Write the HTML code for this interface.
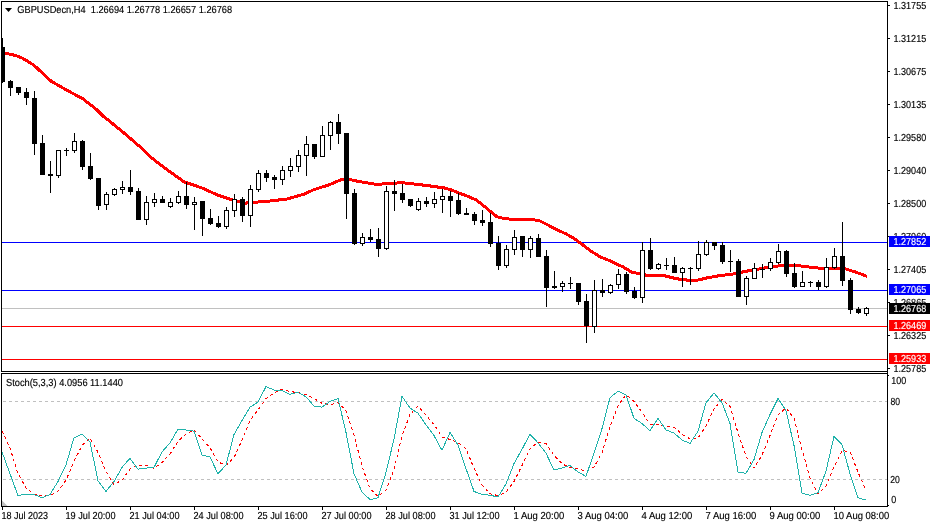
<!DOCTYPE html>
<html><head><meta charset="utf-8"><title>GBPUSDecn,H4</title>
<style>
html,body{margin:0;padding:0;background:#fff;}
body{width:932px;height:527px;overflow:hidden;position:relative;}
svg{position:absolute;left:0;top:0;display:block;}
text{white-space:pre;font-family:"Liberation Sans",sans-serif;font-size:10.2px;text-rendering:geometricPrecision;fill:#000;stroke:#000;stroke-width:0.15px;}
.w{fill:#fff;stroke:#fff;}
</style></head><body>
<svg width="932" height="527" viewBox="0 0 932 527">
<rect width="932" height="527" fill="#fff"/>

<defs><clipPath id="cm"><rect x="2" y="2" width="885" height="369"/></clipPath><clipPath id="cs"><rect x="2" y="374" width="885" height="132"/></clipPath></defs>
<g shape-rendering="crispEdges">
<rect x="2" y="242" width="885" height="1" fill="#0000ff"/>
<rect x="2" y="290" width="885" height="1" fill="#0000ff"/>
<rect x="2" y="308" width="885" height="1" fill="#c0c0c0"/>
<rect x="2" y="326" width="885" height="1" fill="#ff0000"/>
<rect x="2" y="359" width="885" height="1" fill="#ff0000"/>
</g>
<polyline points="2,53.5 8,53.8 12,54.5 17,56 23,58.5 28,61.5 34,65.3 51.5,81.5 68.7,91.2 82.4,98.5 96,109 103,116 110,121.5 127,135.5 140.8,147.5 150,156.5 160,164.5 167,169.7 184,181.8 201.5,187.8 218.7,195.5 236,201 244.4,203.2 253,202.4 270,201 287,199 304.5,194 313,190 330,184.5 341.5,179.5 350,179.5 358.7,181.5 376,184.4 393,183.3 402,182.7 410,183.6 427,185.5 444.5,188 450,189.5 467,196 476,199.8 484.5,206.5 488.6,210 497,216.8 505.7,218.9 514,219.2 531.5,219.4 540,221 548.7,225.4 557.2,230 566,233.8 574.4,238.6 583,245 591.6,251.5 600,256.8 609,260.4 617,264.4 623,266.9 631.6,272 640,274 648,275.5 657,275.5 664,275.6 673,277.9 681.5,279.6 690,280.3 698.7,280 707,277.9 716,276.2 733,274 741.6,272.2 750,270.5 767,267.6 776,266.2 785.7,265.3 794,265.3 803,266.2 811.5,267.4 820,268.2 828.7,268.2 837,268.6 846,269 854.4,271.7 863,274.7 867,276.5" fill="none" stroke="#ff0000" stroke-width="3" stroke-linejoin="round" shape-rendering="crispEdges" clip-path="url(#cm)"/>
<g shape-rendering="crispEdges" clip-path="url(#cm)">
<rect x="2" y="38" width="1" height="45" fill="#000"/>
<rect x="0" y="47" width="5" height="35" fill="#000"/>
<rect x="10" y="80" width="1" height="16" fill="#000"/>
<rect x="8" y="81" width="5" height="7" fill="#000"/>
<rect x="18" y="87" width="1" height="8" fill="#000"/>
<rect x="16" y="87" width="5" height="6" fill="#000"/>
<rect x="26" y="88" width="1" height="17" fill="#000"/>
<rect x="24" y="92" width="5" height="6" fill="#000"/>
<rect x="34" y="91" width="1" height="64" fill="#000"/>
<rect x="32" y="98" width="5" height="46" fill="#000"/>
<rect x="42" y="135" width="1" height="40" fill="#000"/>
<rect x="40" y="143" width="5" height="32" fill="#000"/>
<rect x="50" y="161" width="1" height="32" fill="#000"/>
<rect x="48" y="174" width="5" height="2" fill="#000"/>
<rect x="58" y="150" width="1" height="28" fill="#000"/>
<rect x="56" y="150" width="5" height="26" fill="#000"/>
<rect x="57" y="151" width="3" height="24" fill="#fff"/>
<rect x="66" y="148" width="1" height="8" fill="#000"/>
<rect x="64" y="150" width="5" height="1" fill="#000"/>
<rect x="74" y="133" width="1" height="20" fill="#000"/>
<rect x="72" y="141" width="5" height="10" fill="#000"/>
<rect x="73" y="142" width="3" height="8" fill="#fff"/>
<rect x="82" y="140" width="1" height="30" fill="#000"/>
<rect x="80" y="141" width="5" height="26" fill="#000"/>
<rect x="90" y="153" width="1" height="27" fill="#000"/>
<rect x="88" y="166" width="5" height="13" fill="#000"/>
<rect x="98" y="178" width="1" height="32" fill="#000"/>
<rect x="96" y="178" width="5" height="28" fill="#000"/>
<rect x="106" y="192" width="1" height="18" fill="#000"/>
<rect x="104" y="194" width="5" height="11" fill="#000"/>
<rect x="105" y="195" width="3" height="9" fill="#fff"/>
<rect x="114" y="188" width="1" height="8" fill="#000"/>
<rect x="112" y="189" width="5" height="6" fill="#000"/>
<rect x="113" y="190" width="3" height="4" fill="#fff"/>
<rect x="122" y="181" width="1" height="13" fill="#000"/>
<rect x="120" y="187" width="5" height="3" fill="#000"/>
<rect x="121" y="188" width="3" height="1" fill="#fff"/>
<rect x="130" y="170" width="1" height="25" fill="#000"/>
<rect x="128" y="187" width="5" height="5" fill="#000"/>
<rect x="138" y="188" width="1" height="32" fill="#000"/>
<rect x="136" y="191" width="5" height="29" fill="#000"/>
<rect x="146" y="196" width="1" height="29" fill="#000"/>
<rect x="144" y="202" width="5" height="18" fill="#000"/>
<rect x="145" y="203" width="3" height="16" fill="#fff"/>
<rect x="154" y="193" width="1" height="14" fill="#000"/>
<rect x="152" y="199" width="5" height="4" fill="#000"/>
<rect x="153" y="200" width="3" height="2" fill="#fff"/>
<rect x="162" y="196" width="1" height="7" fill="#000"/>
<rect x="160" y="199" width="5" height="4" fill="#000"/>
<rect x="170" y="198" width="1" height="10" fill="#000"/>
<rect x="168" y="202" width="5" height="5" fill="#000"/>
<rect x="169" y="203" width="3" height="3" fill="#fff"/>
<rect x="178" y="191" width="1" height="13" fill="#000"/>
<rect x="176" y="196" width="5" height="7" fill="#000"/>
<rect x="177" y="197" width="3" height="5" fill="#fff"/>
<rect x="186" y="182" width="1" height="27" fill="#000"/>
<rect x="184" y="196" width="5" height="9" fill="#000"/>
<rect x="194" y="197" width="1" height="33" fill="#000"/>
<rect x="192" y="202" width="5" height="3" fill="#000"/>
<rect x="193" y="203" width="3" height="1" fill="#fff"/>
<rect x="202" y="201" width="1" height="35" fill="#000"/>
<rect x="200" y="201" width="5" height="18" fill="#000"/>
<rect x="210" y="209" width="1" height="16" fill="#000"/>
<rect x="208" y="218" width="5" height="6" fill="#000"/>
<rect x="218" y="216" width="1" height="12" fill="#000"/>
<rect x="216" y="223" width="5" height="4" fill="#000"/>
<rect x="226" y="207" width="1" height="22" fill="#000"/>
<rect x="224" y="210" width="5" height="17" fill="#000"/>
<rect x="225" y="211" width="3" height="15" fill="#fff"/>
<rect x="234" y="194" width="1" height="23" fill="#000"/>
<rect x="232" y="199" width="5" height="12" fill="#000"/>
<rect x="233" y="200" width="3" height="10" fill="#fff"/>
<rect x="242" y="197" width="1" height="25" fill="#000"/>
<rect x="240" y="199" width="5" height="17" fill="#000"/>
<rect x="250" y="185" width="1" height="42" fill="#000"/>
<rect x="248" y="189" width="5" height="27" fill="#000"/>
<rect x="249" y="190" width="3" height="25" fill="#fff"/>
<rect x="258" y="170" width="1" height="22" fill="#000"/>
<rect x="256" y="173" width="5" height="17" fill="#000"/>
<rect x="257" y="174" width="3" height="15" fill="#fff"/>
<rect x="266" y="170" width="1" height="12" fill="#000"/>
<rect x="264" y="173" width="5" height="5" fill="#000"/>
<rect x="274" y="175" width="1" height="14" fill="#000"/>
<rect x="272" y="177" width="5" height="3" fill="#000"/>
<rect x="282" y="166" width="1" height="19" fill="#000"/>
<rect x="280" y="170" width="5" height="10" fill="#000"/>
<rect x="281" y="171" width="3" height="8" fill="#fff"/>
<rect x="290" y="158" width="1" height="19" fill="#000"/>
<rect x="288" y="166" width="5" height="5" fill="#000"/>
<rect x="289" y="167" width="3" height="3" fill="#fff"/>
<rect x="298" y="150" width="1" height="22" fill="#000"/>
<rect x="296" y="155" width="5" height="12" fill="#000"/>
<rect x="297" y="156" width="3" height="10" fill="#fff"/>
<rect x="306" y="136" width="1" height="40" fill="#000"/>
<rect x="304" y="144" width="5" height="12" fill="#000"/>
<rect x="305" y="145" width="3" height="10" fill="#fff"/>
<rect x="314" y="144" width="1" height="15" fill="#000"/>
<rect x="312" y="144" width="5" height="13" fill="#000"/>
<rect x="322" y="126" width="1" height="31" fill="#000"/>
<rect x="320" y="135" width="5" height="22" fill="#000"/>
<rect x="321" y="136" width="3" height="20" fill="#fff"/>
<rect x="330" y="121" width="1" height="29" fill="#000"/>
<rect x="328" y="122" width="5" height="14" fill="#000"/>
<rect x="329" y="123" width="3" height="12" fill="#fff"/>
<rect x="338" y="114" width="1" height="30" fill="#000"/>
<rect x="336" y="122" width="5" height="12" fill="#000"/>
<rect x="346" y="133" width="1" height="86" fill="#000"/>
<rect x="344" y="133" width="5" height="61" fill="#000"/>
<rect x="354" y="189" width="1" height="56" fill="#000"/>
<rect x="352" y="193" width="5" height="51" fill="#000"/>
<rect x="362" y="233" width="1" height="13" fill="#000"/>
<rect x="360" y="237" width="5" height="7" fill="#000"/>
<rect x="361" y="238" width="3" height="5" fill="#fff"/>
<rect x="370" y="229" width="1" height="13" fill="#000"/>
<rect x="368" y="237" width="5" height="3" fill="#000"/>
<rect x="378" y="228" width="1" height="29" fill="#000"/>
<rect x="376" y="239" width="5" height="10" fill="#000"/>
<rect x="386" y="186" width="1" height="64" fill="#000"/>
<rect x="384" y="191" width="5" height="58" fill="#000"/>
<rect x="385" y="192" width="3" height="56" fill="#fff"/>
<rect x="394" y="180" width="1" height="31" fill="#000"/>
<rect x="392" y="191" width="5" height="3" fill="#000"/>
<rect x="402" y="184" width="1" height="19" fill="#000"/>
<rect x="400" y="193" width="5" height="7" fill="#000"/>
<rect x="410" y="199" width="1" height="8" fill="#000"/>
<rect x="408" y="199" width="5" height="7" fill="#000"/>
<rect x="418" y="198" width="1" height="13" fill="#000"/>
<rect x="416" y="201" width="5" height="9" fill="#000"/>
<rect x="417" y="202" width="3" height="7" fill="#fff"/>
<rect x="426" y="197" width="1" height="10" fill="#000"/>
<rect x="424" y="201" width="5" height="3" fill="#000"/>
<rect x="434" y="192" width="1" height="16" fill="#000"/>
<rect x="432" y="199" width="5" height="5" fill="#000"/>
<rect x="433" y="200" width="3" height="3" fill="#fff"/>
<rect x="442" y="189" width="1" height="24" fill="#000"/>
<rect x="440" y="196" width="5" height="4" fill="#000"/>
<rect x="441" y="197" width="3" height="2" fill="#fff"/>
<rect x="450" y="191" width="1" height="26" fill="#000"/>
<rect x="448" y="196" width="5" height="5" fill="#000"/>
<rect x="458" y="193" width="1" height="22" fill="#000"/>
<rect x="456" y="200" width="5" height="14" fill="#000"/>
<rect x="466" y="208" width="1" height="7" fill="#000"/>
<rect x="464" y="213" width="5" height="2" fill="#000"/>
<rect x="474" y="212" width="1" height="13" fill="#000"/>
<rect x="472" y="214" width="5" height="7" fill="#000"/>
<rect x="482" y="210" width="1" height="16" fill="#000"/>
<rect x="480" y="220" width="5" height="3" fill="#000"/>
<rect x="490" y="213" width="1" height="34" fill="#000"/>
<rect x="488" y="222" width="5" height="22" fill="#000"/>
<rect x="498" y="236" width="1" height="34" fill="#000"/>
<rect x="496" y="243" width="5" height="23" fill="#000"/>
<rect x="506" y="245" width="1" height="23" fill="#000"/>
<rect x="504" y="249" width="5" height="17" fill="#000"/>
<rect x="505" y="250" width="3" height="15" fill="#fff"/>
<rect x="514" y="230" width="1" height="25" fill="#000"/>
<rect x="512" y="237" width="5" height="13" fill="#000"/>
<rect x="513" y="238" width="3" height="11" fill="#fff"/>
<rect x="522" y="236" width="1" height="21" fill="#000"/>
<rect x="520" y="236" width="5" height="14" fill="#000"/>
<rect x="530" y="236" width="1" height="22" fill="#000"/>
<rect x="528" y="238" width="5" height="12" fill="#000"/>
<rect x="529" y="239" width="3" height="10" fill="#fff"/>
<rect x="538" y="234" width="1" height="23" fill="#000"/>
<rect x="536" y="238" width="5" height="19" fill="#000"/>
<rect x="546" y="250" width="1" height="57" fill="#000"/>
<rect x="544" y="256" width="5" height="32" fill="#000"/>
<rect x="554" y="271" width="1" height="18" fill="#000"/>
<rect x="552" y="286" width="5" height="2" fill="#000"/>
<rect x="562" y="281" width="1" height="11" fill="#000"/>
<rect x="560" y="283" width="5" height="4" fill="#000"/>
<rect x="561" y="284" width="3" height="2" fill="#fff"/>
<rect x="570" y="277" width="1" height="12" fill="#000"/>
<rect x="568" y="283" width="5" height="1" fill="#000"/>
<rect x="578" y="283" width="1" height="22" fill="#000"/>
<rect x="576" y="283" width="5" height="19" fill="#000"/>
<rect x="586" y="294" width="1" height="49" fill="#000"/>
<rect x="584" y="301" width="5" height="25" fill="#000"/>
<rect x="594" y="280" width="1" height="53" fill="#000"/>
<rect x="592" y="290" width="5" height="37" fill="#000"/>
<rect x="593" y="291" width="3" height="35" fill="#fff"/>
<rect x="602" y="279" width="1" height="18" fill="#000"/>
<rect x="600" y="290" width="5" height="3" fill="#000"/>
<rect x="610" y="284" width="1" height="10" fill="#000"/>
<rect x="608" y="285" width="5" height="8" fill="#000"/>
<rect x="609" y="286" width="3" height="6" fill="#fff"/>
<rect x="618" y="269" width="1" height="20" fill="#000"/>
<rect x="616" y="274" width="5" height="11" fill="#000"/>
<rect x="617" y="275" width="3" height="9" fill="#fff"/>
<rect x="626" y="272" width="1" height="22" fill="#000"/>
<rect x="624" y="274" width="5" height="18" fill="#000"/>
<rect x="634" y="287" width="1" height="12" fill="#000"/>
<rect x="632" y="291" width="5" height="7" fill="#000"/>
<rect x="642" y="242" width="1" height="61" fill="#000"/>
<rect x="640" y="250" width="5" height="48" fill="#000"/>
<rect x="641" y="251" width="3" height="46" fill="#fff"/>
<rect x="650" y="238" width="1" height="32" fill="#000"/>
<rect x="648" y="250" width="5" height="19" fill="#000"/>
<rect x="658" y="263" width="1" height="7" fill="#000"/>
<rect x="656" y="264" width="5" height="5" fill="#000"/>
<rect x="657" y="265" width="3" height="3" fill="#fff"/>
<rect x="666" y="258" width="1" height="12" fill="#000"/>
<rect x="664" y="265" width="5" height="1" fill="#000"/>
<rect x="674" y="257" width="1" height="16" fill="#000"/>
<rect x="672" y="265" width="5" height="8" fill="#000"/>
<rect x="682" y="267" width="1" height="20" fill="#000"/>
<rect x="680" y="268" width="5" height="5" fill="#000"/>
<rect x="681" y="269" width="3" height="3" fill="#fff"/>
<rect x="690" y="267" width="1" height="18" fill="#000"/>
<rect x="688" y="268" width="5" height="1" fill="#000"/>
<rect x="698" y="241" width="1" height="30" fill="#000"/>
<rect x="696" y="254" width="5" height="15" fill="#000"/>
<rect x="697" y="255" width="3" height="13" fill="#fff"/>
<rect x="706" y="240" width="1" height="16" fill="#000"/>
<rect x="704" y="242" width="5" height="13" fill="#000"/>
<rect x="705" y="243" width="3" height="11" fill="#fff"/>
<rect x="714" y="242" width="1" height="8" fill="#000"/>
<rect x="712" y="242" width="5" height="4" fill="#000"/>
<rect x="722" y="242" width="1" height="22" fill="#000"/>
<rect x="720" y="245" width="5" height="17" fill="#000"/>
<rect x="730" y="250" width="1" height="22" fill="#000"/>
<rect x="728" y="261" width="5" height="1" fill="#000"/>
<rect x="738" y="259" width="1" height="38" fill="#000"/>
<rect x="736" y="261" width="5" height="36" fill="#000"/>
<rect x="746" y="276" width="1" height="29" fill="#000"/>
<rect x="744" y="278" width="5" height="19" fill="#000"/>
<rect x="745" y="279" width="3" height="17" fill="#fff"/>
<rect x="754" y="263" width="1" height="16" fill="#000"/>
<rect x="752" y="268" width="5" height="11" fill="#000"/>
<rect x="753" y="269" width="3" height="9" fill="#fff"/>
<rect x="762" y="264" width="1" height="14" fill="#000"/>
<rect x="760" y="269" width="5" height="1" fill="#000"/>
<rect x="770" y="258" width="1" height="13" fill="#000"/>
<rect x="768" y="262" width="5" height="7" fill="#000"/>
<rect x="769" y="263" width="3" height="5" fill="#fff"/>
<rect x="778" y="244" width="1" height="20" fill="#000"/>
<rect x="776" y="251" width="5" height="12" fill="#000"/>
<rect x="777" y="252" width="3" height="10" fill="#fff"/>
<rect x="786" y="250" width="1" height="27" fill="#000"/>
<rect x="784" y="251" width="5" height="23" fill="#000"/>
<rect x="794" y="263" width="1" height="25" fill="#000"/>
<rect x="792" y="273" width="5" height="14" fill="#000"/>
<rect x="802" y="271" width="1" height="16" fill="#000"/>
<rect x="800" y="282" width="5" height="5" fill="#000"/>
<rect x="801" y="283" width="3" height="3" fill="#fff"/>
<rect x="810" y="281" width="1" height="6" fill="#000"/>
<rect x="808" y="282" width="5" height="1" fill="#000"/>
<rect x="818" y="280" width="1" height="10" fill="#000"/>
<rect x="816" y="282" width="5" height="5" fill="#000"/>
<rect x="826" y="258" width="1" height="30" fill="#000"/>
<rect x="824" y="267" width="5" height="20" fill="#000"/>
<rect x="825" y="268" width="3" height="18" fill="#fff"/>
<rect x="834" y="248" width="1" height="21" fill="#000"/>
<rect x="832" y="256" width="5" height="12" fill="#000"/>
<rect x="833" y="257" width="3" height="10" fill="#fff"/>
<rect x="842" y="222" width="1" height="64" fill="#000"/>
<rect x="840" y="256" width="5" height="25" fill="#000"/>
<rect x="850" y="278" width="1" height="36" fill="#000"/>
<rect x="848" y="280" width="5" height="30" fill="#000"/>
<rect x="858" y="307" width="1" height="7" fill="#000"/>
<rect x="856" y="309" width="5" height="4" fill="#000"/>
<rect x="866" y="307" width="1" height="9" fill="#000"/>
<rect x="864" y="308" width="5" height="6" fill="#000"/>
<rect x="865" y="309" width="3" height="4" fill="#fff"/>
</g>
<g shape-rendering="crispEdges" fill="#000">
<rect x="1" y="1" width="887" height="1"/>
<rect x="1" y="1" width="1" height="371"/>
<rect x="1" y="371" width="887" height="1"/>
<rect x="887" y="1" width="1" height="506"/>
<rect x="1" y="373" width="887" height="1"/>
<rect x="1" y="373" width="1" height="134"/>
<rect x="1" y="506" width="887" height="1"/>
<rect x="888" y="5" width="2" height="1"/>
<rect x="888" y="38" width="2" height="1"/>
<rect x="888" y="71" width="2" height="1"/>
<rect x="888" y="104" width="2" height="1"/>
<rect x="888" y="137" width="2" height="1"/>
<rect x="888" y="170" width="2" height="1"/>
<rect x="888" y="203" width="2" height="1"/>
<rect x="888" y="236" width="2" height="1"/>
<rect x="888" y="269" width="2" height="1"/>
<rect x="888" y="302" width="2" height="1"/>
<rect x="888" y="335" width="2" height="1"/>
<rect x="888" y="368" width="2" height="1"/>
<rect x="888" y="375" width="1" height="1"/>
<rect x="888" y="505" width="1" height="1"/>
<rect x="2" y="507" width="1" height="3"/>
<rect x="66" y="507" width="1" height="3"/>
<rect x="130" y="507" width="1" height="3"/>
<rect x="194" y="507" width="1" height="3"/>
<rect x="258" y="507" width="1" height="3"/>
<rect x="322" y="507" width="1" height="3"/>
<rect x="386" y="507" width="1" height="3"/>
<rect x="450" y="507" width="1" height="3"/>
<rect x="514" y="507" width="1" height="3"/>
<rect x="578" y="507" width="1" height="3"/>
<rect x="642" y="507" width="1" height="3"/>
<rect x="706" y="507" width="1" height="3"/>
<rect x="770" y="507" width="1" height="3"/>
<rect x="834" y="507" width="1" height="3"/>
</g>
<polygon points="2,500.5 2,506 7.5,506" fill="#c0c0c0"/>
<polygon points="5,8 12,8 8.5,12" fill="#000"/>
<text x="893.5" y="9" textLength="32.7" lengthAdjust="spacingAndGlyphs">1.31755</text>
<text x="893.5" y="42" textLength="32.7" lengthAdjust="spacingAndGlyphs">1.31215</text>
<text x="893.5" y="75" textLength="32.7" lengthAdjust="spacingAndGlyphs">1.30675</text>
<text x="893.5" y="108" textLength="32.7" lengthAdjust="spacingAndGlyphs">1.30135</text>
<text x="893.5" y="141" textLength="32.7" lengthAdjust="spacingAndGlyphs">1.29580</text>
<text x="893.5" y="174" textLength="32.7" lengthAdjust="spacingAndGlyphs">1.29040</text>
<text x="893.5" y="207" textLength="32.7" lengthAdjust="spacingAndGlyphs">1.28500</text>
<text x="893.5" y="240" textLength="32.7" lengthAdjust="spacingAndGlyphs">1.27960</text>
<text x="893.5" y="273" textLength="32.7" lengthAdjust="spacingAndGlyphs">1.27405</text>
<text x="893.5" y="306" textLength="32.7" lengthAdjust="spacingAndGlyphs">1.26865</text>
<text x="893.5" y="339" textLength="32.7" lengthAdjust="spacingAndGlyphs">1.26325</text>
<text x="893.5" y="372" textLength="32.7" lengthAdjust="spacingAndGlyphs">1.25785</text>
<rect x="889" y="236" width="41" height="11" fill="#0000ff" shape-rendering="crispEdges"/>
<text class="w" x="893.5" y="245" textLength="32.7" lengthAdjust="spacingAndGlyphs">1.27852</text>
<rect x="889" y="284" width="41" height="11" fill="#0000ff" shape-rendering="crispEdges"/>
<text class="w" x="893.5" y="293" textLength="32.7" lengthAdjust="spacingAndGlyphs">1.27065</text>
<rect x="889" y="303" width="41" height="11" fill="#000000" shape-rendering="crispEdges"/>
<text class="w" x="893.5" y="312" textLength="32.7" lengthAdjust="spacingAndGlyphs">1.26768</text>
<rect x="889" y="320" width="41" height="11" fill="#ff0000" shape-rendering="crispEdges"/>
<text class="w" x="893.5" y="329" textLength="32.7" lengthAdjust="spacingAndGlyphs">1.26469</text>
<rect x="889" y="353" width="41" height="11" fill="#ff0000" shape-rendering="crispEdges"/>
<text class="w" x="893.5" y="362" textLength="32.7" lengthAdjust="spacingAndGlyphs">1.25933</text>
<text x="17.3" y="13" textLength="214.8" lengthAdjust="spacingAndGlyphs">GBPUSDecn,H4  1.26694 1.26778 1.26657 1.26768</text>
<text x="6" y="386" textLength="117" lengthAdjust="spacingAndGlyphs">Stoch(5,3,3) 4.0956 11.1440</text>
<text x="891.3" y="383.6" textLength="15" lengthAdjust="spacingAndGlyphs">100</text>
<text x="890.5" y="405" textLength="9.6" lengthAdjust="spacingAndGlyphs">80</text>
<text x="890.3" y="483" textLength="9.6" lengthAdjust="spacingAndGlyphs">20</text>
<text x="891.3" y="502.7" textLength="5" lengthAdjust="spacingAndGlyphs">0</text>
<text x="1.5" y="519" textLength="46.5" lengthAdjust="spacingAndGlyphs">18 Jul 2023</text>
<text x="65.5" y="519" textLength="50" lengthAdjust="spacingAndGlyphs">19 Jul 20:00</text>
<text x="129.5" y="519" textLength="50" lengthAdjust="spacingAndGlyphs">21 Jul 04:00</text>
<text x="193.5" y="519" textLength="50" lengthAdjust="spacingAndGlyphs">24 Jul 08:00</text>
<text x="257.5" y="519" textLength="50" lengthAdjust="spacingAndGlyphs">25 Jul 16:00</text>
<text x="321.5" y="519" textLength="50" lengthAdjust="spacingAndGlyphs">27 Jul 00:00</text>
<text x="385.5" y="519" textLength="50" lengthAdjust="spacingAndGlyphs">28 Jul 08:00</text>
<text x="449.5" y="519" textLength="50" lengthAdjust="spacingAndGlyphs">31 Jul 12:00</text>
<text x="513.5" y="519" textLength="50.7" lengthAdjust="spacingAndGlyphs">1 Aug 20:00</text>
<text x="577.5" y="519" textLength="50.7" lengthAdjust="spacingAndGlyphs">3 Aug 04:00</text>
<text x="641.5" y="519" textLength="50.7" lengthAdjust="spacingAndGlyphs">4 Aug 12:00</text>
<text x="705.5" y="519" textLength="50.7" lengthAdjust="spacingAndGlyphs">7 Aug 16:00</text>
<text x="769.5" y="519" textLength="50.7" lengthAdjust="spacingAndGlyphs">9 Aug 00:00</text>
<text x="833.5" y="519" textLength="55.7" lengthAdjust="spacingAndGlyphs">10 Aug 08:00</text>
<g shape-rendering="crispEdges" stroke="#c0c0c0" stroke-width="1" stroke-dasharray="3 3">
<line x1="3" y1="401.5" x2="887" y2="401.5"/>
<line x1="3" y1="479.5" x2="887" y2="479.5"/>
</g>
<g clip-path="url(#cs)" fill="none" shape-rendering="crispEdges"><polyline points="2,431.0 10,448.0 18,473.8 26,487.8 34,494.7 42,495.4 50,495.6 58,491.3 66,480.3 74,461.3 82,445.6 90,438.0 98,452.4 106,471.4 114,484.6 122,480.1 130,469.1 138,465.0 146,465.2 154,468.2 162,462.5 170,454.0 178,441.3 186,434.0 194,430.1 202,438.7 210,447.7 218,461.9 226,465.3 234,457.8 242,440.0 250,420.7 258,409.9 266,398.6 274,392.9 282,389.1 290,391.7 298,392.4 306,394.5 314,398.4 322,403.3 330,404.9 338,402.4 346,410.8 354,434.9 362,466.1 370,488.4 378,496.4 386,490.0 394,469.8 402,436.0 410,414.5 418,405.9 426,415.3 434,424.5 442,436.9 450,439.5 458,442.6 466,448.7 474,468.3 482,484.8 490,493.7 498,495.6 506,492.1 514,481.5 522,465.6 530,449.0 538,442.1 546,443.4 554,455.3 562,463.7 570,467.8 578,468.5 586,471.3 594,467.1 602,452.7 610,426.4 618,405.8 626,394.6 634,401.5 642,412.3 650,424.2 658,424.2 666,426.3 674,427.1 682,434.3 690,438.8 698,438.2 706,425.8 714,409.0 722,399.5 730,406.4 738,432.8 746,456.3 754,468.3 762,455.1 770,435.5 778,415.2 786,407.9 794,418.2 802,449.7 810,477.9 818,493.7 826,486.3 834,466.7 842,450.7 850,451.6 858,472.1 866,490.5" stroke="#ff0000" stroke-width="1" stroke-dasharray="3 3"/>
<polyline points="2,451.9 10,473.8 18,495.7 26,494 34,494.5 42,497.8 50,494.5 58,481.5 66,464.8 74,437.7 82,434.3 90,442 98,480.8 106,491.4 114,481.5 122,467.4 130,458.3 138,469.2 146,468.1 154,467.4 162,451.9 170,442.8 178,429.2 186,430 194,431.2 202,455 210,457 218,473.8 226,465 234,434.5 242,420.5 250,407.2 258,402 266,386.6 274,390 282,390.7 290,394.3 298,392.3 306,396.8 314,406 322,407.2 330,401.5 338,398.5 346,432.5 354,473.8 362,491.9 370,499.6 378,497.8 386,472.5 394,439 402,396.4 410,408 418,413.2 426,424.8 434,435.6 442,450.3 450,432.5 458,445 466,468.6 474,491.4 482,494.5 490,495.2 498,497 506,484 514,463.5 522,449.3 530,434.3 538,442.8 546,453.2 554,470 562,468 570,465.5 578,472 586,476.4 594,453 602,428.6 610,397.7 618,391.2 626,395 634,418.3 642,423.5 650,430.7 658,418.3 666,430 674,433 682,440 690,443.4 698,431.2 706,402.8 714,393 722,402.8 730,423.5 738,472 746,473.3 754,459.6 762,432.5 770,414.5 778,398.5 786,410.6 794,445.4 802,493.2 810,495.2 818,492.6 826,471.2 834,436.4 842,444.6 850,473.8 858,497.8 866,500" stroke="#20b2aa" stroke-width="1"/></g>
</svg></body></html>
